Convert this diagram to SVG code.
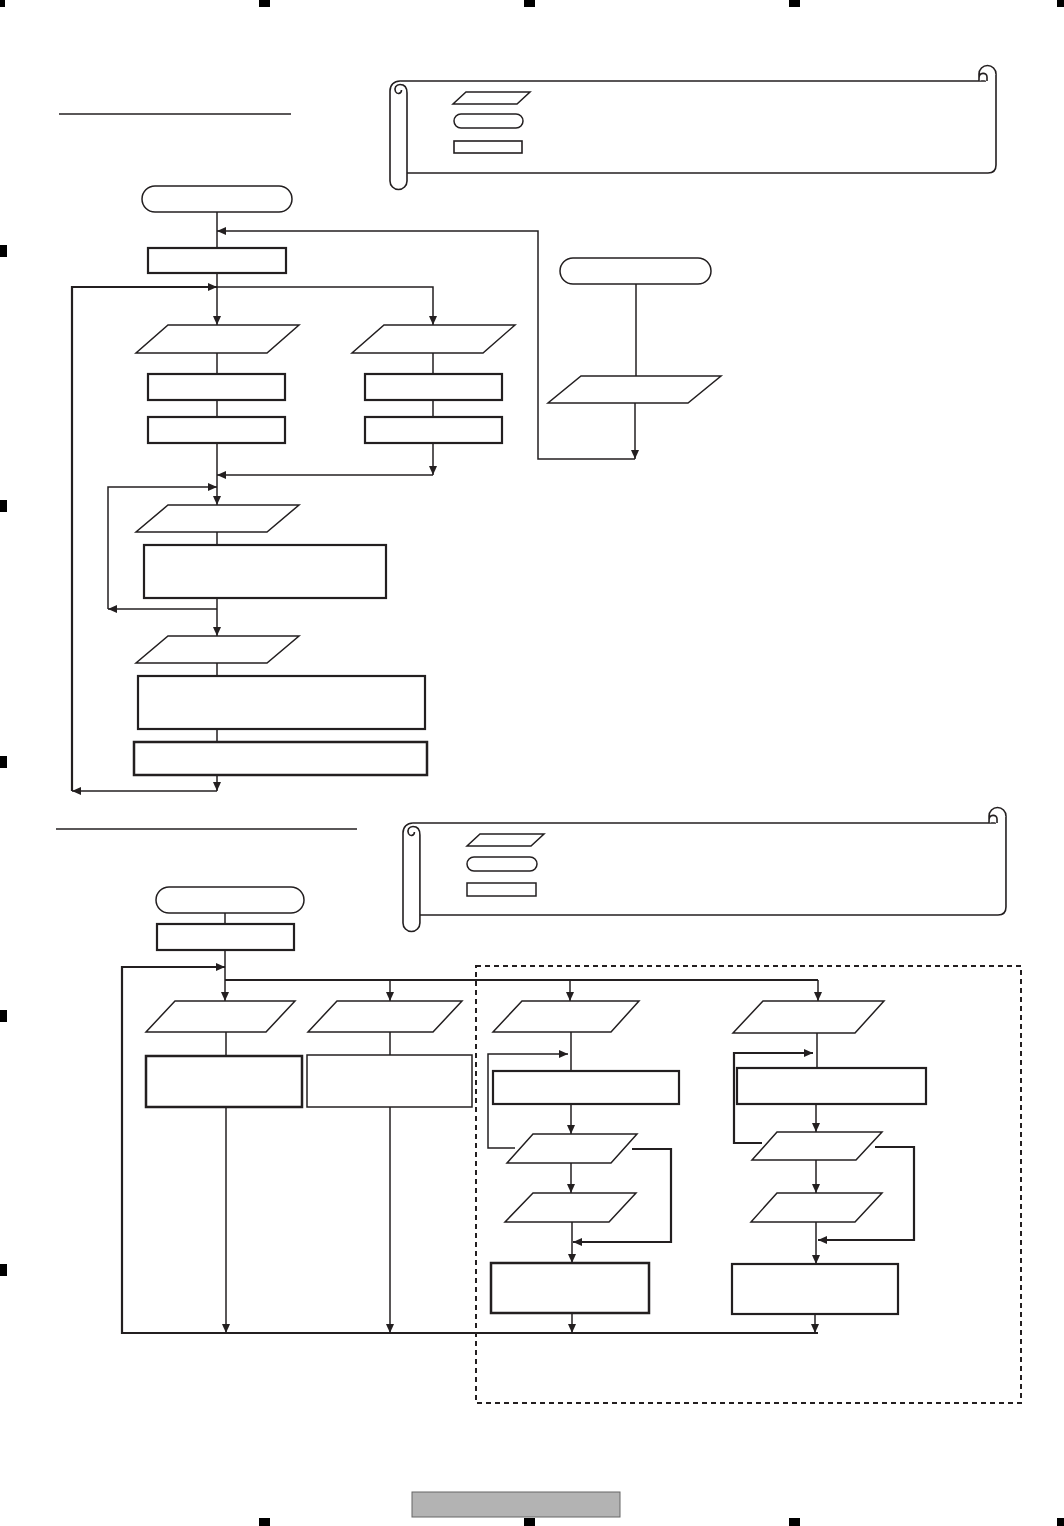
<svg xmlns="http://www.w3.org/2000/svg" width="1064" height="1526" viewBox="0 0 1064 1526">
<defs>
<style>
.s{fill:#fff;stroke:#231f20;stroke-width:1.5}
.t{fill:#fff;stroke:#231f20;stroke-width:2.2}
.c{fill:none;stroke:#231f20;stroke-width:1.5}
.cb{fill:none;stroke:#231f20;stroke-width:2.2}
.a{marker-end:url(#ah)}
.m{fill:#000}
.sc{fill:#fff;stroke:#231f20;stroke-width:1.6;stroke-linejoin:round}
</style>
<marker id="ah" viewBox="0 0 9 8" refX="9" refY="4" markerWidth="9" markerHeight="8" markerUnits="userSpaceOnUse" orient="auto">
<path d="M0,0 L9,4 L0,8 z" fill="#231f20"/>
</marker>
<g id="scrollShape">
<path class="sc" d="M10,0 L596,0 M17,92 L598,92 Q606,92 606,84 L606,-7"/>
<path class="sc" d="M10,0 C4,0 0,4 0,10 L0,100 A8.5,8.5 0 0 0 17,100 L17,12 C17,6 14,3.5 10,3.5 C6,3.5 4,7 5.5,10.5 C7,13.5 11.5,13 11.5,9"/>
<path class="sc" fill="none" d="M606,-7 A8.5,8.5 0 0 0 589,-7 L589,0 M589,-3 C589,-9 597,-9 597,-4 L597,0"/>
</g>
</defs>
<rect width="1064" height="1526" fill="#fff"/>

<g id="marks">
<rect class="m" x="0" y="0" width="5" height="7"/>
<rect class="m" x="259" y="0" width="11" height="7"/>
<rect class="m" x="524" y="0" width="11" height="7"/>
<rect class="m" x="789" y="0" width="11" height="7"/>
<rect class="m" x="1057" y="0" width="7" height="7"/>
<rect class="m" x="0" y="245" width="7" height="12"/>
<rect class="m" x="0" y="500" width="7" height="12"/>
<rect class="m" x="0" y="756" width="7" height="12"/>
<rect class="m" x="0" y="1010" width="7" height="12"/>
<rect class="m" x="0" y="1264" width="7" height="12"/>
<rect class="m" x="259" y="1518" width="11" height="8"/>
<rect class="m" x="524" y="1518" width="11" height="8"/>
<rect class="m" x="789" y="1518" width="11" height="8"/>
<rect class="m" x="1057" y="1518" width="7" height="8"/>
<rect x="412" y="1492" width="208" height="25" fill="#b3b3b3" stroke="#666" stroke-width="1"/>
</g>

<g id="titles">
<line x1="59" y1="114" x2="291" y2="114" stroke="#231f20" stroke-width="1.5"/>
<line x1="56" y1="829" x2="357" y2="829" stroke="#231f20" stroke-width="1.5"/>
</g>

<g id="legend1">
<use href="#scrollShape" transform="translate(390,81)"/>
<polygon class="s" points="466,92 530,92 517,104 453,104"/>
<rect class="s" x="454" y="114" width="69" height="14" rx="7"/>
<rect class="t" x="454" y="141" width="68" height="12" style="stroke-width:1.6"/>
</g>
<g id="legend2">
<use href="#scrollShape" transform="translate(403,823) scale(0.995,1)"/>
<polygon class="s" points="480,834 544,834 531,846 467,846"/>
<rect class="s" x="467" y="857" width="70" height="14" rx="7"/>
<rect class="s" x="467" y="883" width="69" height="13"/>
</g>

<g id="connectors">
<path class="c" d="M217,212 L217,248"/>
<path class="c a" d="M217,273 L217,325"/>
<path class="c a" d="M217,287 L433,287 L433,325"/>
<path class="c" d="M217,353 L217,374 M217,400 L217,417 M433,353 L433,374 M433,400 L433,417"/>
<path class="c a" d="M217,443 L217,505"/>
<path class="c a" d="M433,443 L433,475"/>
<path class="c a" d="M433,475 L217,475"/>
<path class="c a" d="M108,609 L108,487 L217,487"/>
<path class="c" d="M217,532 L217,545"/>
<path class="c a" d="M217,598 L217,636"/>
<path class="c a" d="M217,609 L108,609"/>
<path class="c" d="M217,663 L217,676 M217,729 L217,742"/>
<path class="c a" d="M217,775 L217,791"/>
<path class="c a" d="M217,791 L72,791"/>
<path class="cb a" d="M72,791 L72,287 L217,287"/>
<path class="c" d="M636,284 L636,376"/>
<path class="c a" d="M635,403 L635,459"/>
<path class="c a" d="M635,459 L538,459 L538,231 L217,231"/>

<path class="c" d="M225,913 L225,924"/>
<path class="c a" d="M225,950 L225,1001"/>
<path class="cb" d="M225,980 L818,980"/>
<path class="c a" d="M390,980 L390,1001"/>
<path class="c a" d="M570,980 L570,1001"/>
<path class="c a" d="M818,980 L818,1001"/>
<path class="cb a" d="M818,1333 L122,1333 L122,967 L225,967"/>
<path class="c" d="M226,1032 L226,1056 M390,1032 L390,1055"/>
<path class="c a" d="M226,1107 L226,1333"/>
<path class="c a" d="M390,1107 L390,1333"/>
<path class="c" d="M571,1032 L571,1071"/>
<path class="c a" d="M515,1148 L488,1148 L488,1054 L568,1054"/>
<path class="c a" d="M571,1104 L571,1134"/>
<path class="c a" d="M571,1163 L571,1193"/>
<path class="cb a" d="M632,1149 L671,1149 L671,1242 L573,1242"/>
<path class="c a" d="M572,1222 L572,1263"/>
<path class="c a" d="M572,1313 L572,1333"/>
<path class="c" d="M817,1033 L817,1068"/>
<path class="cb a" d="M762,1143 L734,1143 L734,1053 L813,1053"/>
<path class="c a" d="M816,1104 L816,1132"/>
<path class="c a" d="M816,1160 L816,1193"/>
<path class="cb a" d="M875,1147 L914,1147 L914,1240 L818,1240"/>
<path class="c a" d="M816,1222 L816,1264"/>
<path class="c a" d="M815,1314 L815,1333"/>
</g>

<g id="group-box">
<rect x="476" y="966" width="545" height="437" fill="none" stroke="#231f20" stroke-width="2" stroke-dasharray="5 4"/>
</g>

<g id="start1"><rect class="s" x="142" y="186" width="150" height="26" rx="13"/></g>
<g id="p1-rect1"><rect class="t" x="148" y="248" width="138" height="25"/></g>
<g id="p1-para1"><polygon class="s" points="168,325 299,325 267,353 136,353"/></g>
<g id="p1-para2"><polygon class="s" points="384,325 515,325 483,353 352,353"/></g>
<g id="p1-rect2a"><rect class="t" x="148" y="374" width="137" height="26"/></g>
<g id="p1-rect2b"><rect class="t" x="148" y="417" width="137" height="26"/></g>
<g id="p1-rect3a"><rect class="t" x="365" y="374" width="137" height="26"/></g>
<g id="p1-rect3b"><rect class="t" x="365" y="417" width="137" height="26"/></g>
<g id="p1-para3"><polygon class="s" points="168,505 299,505 267,532 136,532"/></g>
<g id="p1-rect4"><rect class="t" x="144" y="545" width="242" height="53"/></g>
<g id="p1-para4"><polygon class="s" points="168,636 299,636 267,663 136,663"/></g>
<g id="p1-rect5"><rect class="t" x="138" y="676" width="287" height="53"/></g>
<g id="p1-rect6"><rect class="t" x="134" y="742" width="293" height="33" style="stroke-width:2.5"/></g>
<g id="start2"><rect class="s" x="560" y="258" width="151" height="26" rx="13"/></g>
<g id="p1-para5"><polygon class="s" points="581,376 721,376 688,403 548,403"/></g>

<g id="start3"><rect class="s" x="156" y="887" width="148" height="26" rx="13"/></g>
<g id="p2-rect1"><rect class="t" x="157" y="924" width="137" height="26"/></g>
<g id="p2-para1"><polygon class="s" points="175,1001 295,1001 266,1032 146,1032"/></g>
<g id="p2-para2"><polygon class="s" points="337,1001 462,1001 433,1032 308,1032"/></g>
<g id="p2-rect2"><rect class="t" x="146" y="1056" width="156" height="51" style="stroke-width:2.5"/></g>
<g id="p2-rect3"><rect class="s" x="307" y="1055" width="165" height="52"/></g>
<g id="p2-para3"><polygon class="s" points="522,1001 639,1001 611,1032 493,1032"/></g>
<g id="p2-rect4"><rect class="t" x="493" y="1071" width="186" height="33"/></g>
<g id="p2-para4"><polygon class="s" points="533,1134 637,1134 611,1163 507,1163"/></g>
<g id="p2-para5"><polygon class="s" points="533,1193 636,1193 609,1222 505,1222"/></g>
<g id="p2-rect5"><rect class="t" x="491" y="1263" width="158" height="50" style="stroke-width:2.5"/></g>
<g id="p2-para6"><polygon class="s" points="763,1001 884,1001 855,1033 733,1033"/></g>
<g id="p2-rect6"><rect class="t" x="737" y="1068" width="189" height="36"/></g>
<g id="p2-para7"><polygon class="s" points="777,1132 882,1132 856,1160 752,1160"/></g>
<g id="p2-para8"><polygon class="s" points="777,1193 882,1193 855,1222 751,1222"/></g>
<g id="p2-rect7"><rect class="t" x="732" y="1264" width="166" height="50"/></g>
</svg>
